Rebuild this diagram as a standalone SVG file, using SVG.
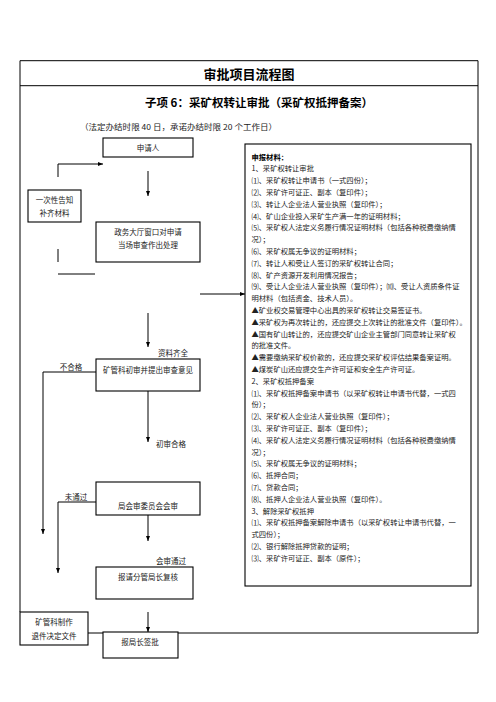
<svg xmlns="http://www.w3.org/2000/svg" width="496" height="702" viewBox="0 0 496 702">
<defs>
<marker id="ah" viewBox="0 0 10 10" refX="10" refY="5" markerWidth="5" markerHeight="5" orient="auto" markerUnits="userSpaceOnUse">
<path d="M0,1 L10,5 L0,9 z" fill="#000"/>
</marker>
<style>
.t{font-family:"Noto Sans CJK SC","Noto Sans",sans-serif;fill:#222;font-size:7.5px}
.c{text-anchor:middle}
.b{font-weight:bold;fill:#000}
.box{fill:#fff;stroke:#000;stroke-width:1.1}
.ln{fill:none;stroke:#000;stroke-width:1}
.m{font-size:7.3px}
.h1{font-size:13px}
.h2{font-size:11.5px}
.nt{font-size:8px}
</style>
</defs>
<rect width="496" height="702" fill="#fff"/>
<g id="frame">
<path class="ln" d="M20,612 V60.7 H478 V633" stroke-width="1.2"/>
<line class="ln" x1="20" y1="85.7" x2="478" y2="85.7" stroke-width="1.2"/>
<text class="t c b h1" x="249" y="78.5">审批项目流程图</text>
<text class="t c b h2" x="259" y="107" textLength="228" lengthAdjust="spacingAndGlyphs">子项 6：采矿权转让审批（采矿权抵押备案）</text>
<text class="t nt" x="80" y="130" textLength="197" lengthAdjust="spacingAndGlyphs">（法定办结时限 40 日，承诺办结时限 20 个工作日）</text>
</g>
<g id="connectors">
<line class="ln" x1="148" y1="171" x2="148" y2="196" marker-end="url(#ah)"/>
<path class="ln" d="M58,177 V164 H103" marker-end="url(#ah)"/>
<line class="ln" x1="58" y1="249" x2="58" y2="262"/>
<line class="ln" x1="58" y1="274" x2="95" y2="274"/>
<line class="ln" x1="200" y1="294" x2="245" y2="294" marker-end="url(#ah)"/>
<line class="ln" x1="148" y1="313" x2="148" y2="347" marker-end="url(#ah)"/>
<path class="ln" d="M96,372 H43 V534" marker-end="url(#ah)"/>
<line class="ln" x1="148" y1="391" x2="148" y2="442" marker-end="url(#ah)"/>
<path class="ln" d="M96,502 H58 V573" marker-end="url(#ah)"/>
<line class="ln" x1="148" y1="515" x2="148" y2="541" marker-end="url(#ah)"/>
<line class="ln" x1="148" y1="612" x2="148" y2="632" marker-end="url(#ah)"/>
<line class="ln" x1="88" y1="633" x2="103" y2="633" stroke-width="1.2"/>
<line class="ln" x1="178" y1="633" x2="478" y2="633" stroke-width="1.2"/>
<text class="t c" x="173" y="356">资料齐全</text>
<text class="t c" x="71" y="370">不合格</text>
<text class="t c" x="171" y="447">初审合格</text>
<text class="t c" x="76" y="500">未通过</text>
<text class="t c" x="171" y="564">会审通过</text>
</g>
<g id="n-apply">
<rect class="box" x="103" y="138" width="90" height="19"/>
<text class="t c" x="148" y="150.5">申请人</text>
</g>
<g id="n-notify">
<rect class="box" x="28" y="190" width="53" height="32"/>
<text class="t c" x="54.5" y="203">一次性告知</text>
<text class="t c" x="54.5" y="216">补齐材料</text>
</g>
<g id="n-hall">
<rect class="box" x="96" y="222" width="104" height="40"/>
<text class="t c" x="148" y="235">政务大厅窗口对申请</text>
<text class="t c" x="148" y="248">当场审查作出处理</text>
</g>
<g id="n-first">
<rect class="box" x="96" y="359" width="104" height="32"/>
<text class="t c" x="148" y="373">矿管科初审并提出审查意见</text>
</g>
<g id="n-meeting">
<rect class="box" x="96" y="482" width="104" height="33"/>
<text class="t c" x="148" y="509">局会审委员会会审</text>
</g>
<g id="n-review">
<rect class="box" x="96" y="567" width="97" height="32"/>
<text class="t c" x="148" y="580">报请分管局长复核</text>
</g>
<g id="n-reject">
<rect class="box" x="20" y="612" width="68" height="33"/>
<text class="t c" x="54" y="625">矿管科制作</text>
<text class="t c" x="54" y="639">退件决定文件</text>
</g>
<g id="n-sign">
<rect class="box" x="103" y="632" width="75" height="26"/>
<text class="t c" x="140" y="645">报局长签批</text>
</g>
<g id="n-materials">
<rect class="box" x="245" y="144" width="226" height="442"/>
<text class="t m b" x="251.5" y="159.5">申报材料：</text>
<text class="t m" x="251.5" y="171.3">1、采矿权转让审批</text>
<text class="t m" x="251.5" y="183.1">⑴、采矿权转让申请书（一式四份）；</text>
<text class="t m" x="251.5" y="194.9">⑵、采矿许可证正、副本（复印件）；</text>
<text class="t m" x="251.5" y="206.7">⑶、转让人企业法人营业执照（复印件）；</text>
<text class="t m" x="251.5" y="218.5">⑷、矿山企业投入采矿生产满一年的证明材料；</text>
<text class="t m" x="251.5" y="230.3">⑸、采矿权人法定义务履行情况证明材料（包括各种税费缴纳情</text>
<text class="t m" x="251.5" y="242.1">况）；</text>
<text class="t m" x="251.5" y="253.9">⑹、采矿权属无争议的证明材料；</text>
<text class="t m" x="251.5" y="265.7">⑺、转让人和受让人签订的采矿权转让合同；</text>
<text class="t m" x="251.5" y="277.5">⑻、矿产资源开发利用情况报告；</text>
<text class="t m" x="251.5" y="289.3">⑼、受让人企业法人营业执照（复印件）；⑽、受让人资质条件证</text>
<text class="t m" x="251.5" y="301.1">明材料（包括资金、技术人员）。</text>
<text class="t m" x="251.5" y="312.9">▲矿业权交易管理中心出具的采矿权转让交易签证书。</text>
<text class="t m" x="251.5" y="324.7">▲采矿权为再次转让的，还应提交上次转让的批准文件（复印件）。</text>
<text class="t m" x="251.5" y="336.5">▲国有矿山转让的，还应提交矿山企业主管部门同意转让采矿权</text>
<text class="t m" x="251.5" y="348.3">的批准文件。</text>
<text class="t m" x="251.5" y="360.1">▲需要缴纳采矿权价款的，还应提交采矿权评估结果备案证明。</text>
<text class="t m" x="251.5" y="371.9">▲煤炭矿山还应提交生产许可证和安全生产许可证。</text>
<text class="t m" x="251.5" y="383.7">2、采矿权抵押备案</text>
<text class="t m" x="251.5" y="395.5">⑴、采矿权抵押备案申请书（以采矿权转让申请书代替，一式四</text>
<text class="t m" x="251.5" y="407.3">份）；</text>
<text class="t m" x="251.5" y="419.1">⑵、采矿权人企业法人营业执照（复印件）；</text>
<text class="t m" x="251.5" y="430.9">⑶、采矿许可证正、副本（复印件）；</text>
<text class="t m" x="251.5" y="442.7">⑷、采矿权人法定义务履行情况证明材料（包括各种税费缴纳情</text>
<text class="t m" x="251.5" y="454.5">况）；</text>
<text class="t m" x="251.5" y="466.3">⑸、采矿权属无争议的证明材料；</text>
<text class="t m" x="251.5" y="478.1">⑹、抵押合同；</text>
<text class="t m" x="251.5" y="489.9">⑺、贷款合同；</text>
<text class="t m" x="251.5" y="501.7">⑻、抵押人企业法人营业执照（复印件）。</text>
<text class="t m" x="251.5" y="513.5">3、解除采矿权抵押</text>
<text class="t m" x="251.5" y="525.3">⑴、采矿权抵押备案解除申请书（以采矿权转让申请书代替，一</text>
<text class="t m" x="251.5" y="537.1">式四份）；</text>
<text class="t m" x="251.5" y="548.9">⑵、银行解除抵押贷款的证明；</text>
<text class="t m" x="251.5" y="560.7">⑶、采矿许可证正、副本（原件）；</text>
</g>
</svg>
